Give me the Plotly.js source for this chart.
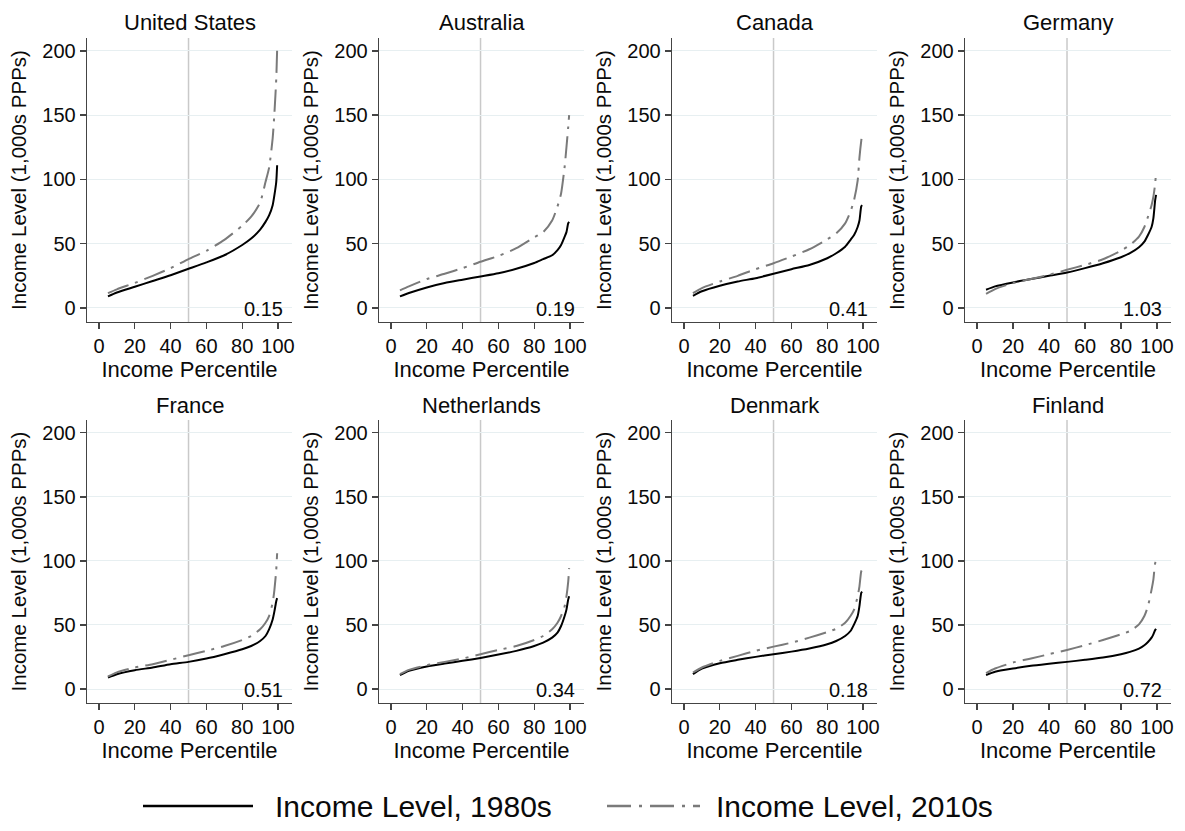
<!DOCTYPE html>
<html>
<head>
<meta charset="utf-8">
<script src="https://cdn.plot.ly/plotly-3.0.1.min.js"></script>
<style>html,body{margin:0;padding:0;background:#fff}#chart{width:1185px;height:831px}</style>
</head>
<body>
<div id="chart"></div>
<script>
// ---- data ----
const percentiles = [5,10,20,30,40,50,60,70,80,85,90,93,95,97,98,99,99.5];
const countries = ["United States","Australia","Canada","Germany","France","Netherlands","Denmark","Finland"];
const ratios = ["0.15","0.19","0.41","1.03","0.51","0.34","0.18","0.72"];
const seriesNames = ["Income Level, 1980s","Income Level, 2010s"];

const us1980 = [9,12,16.5,21,25.5,30.5,35.5,41,49,54,61,67,72,80,88,98,111];
const us2010 = [11.5,14.5,19.5,25,31,38,44.5,53,64,71,82,98,109,132,152,178,201];
const au1980 = [9,11.6,16,19.4,22,24.5,27,30.5,35,38,41,45,49,55.5,59,66,67];
const au2010 = [13.7,16.8,22.5,26.6,31,36,40.5,46.5,55,59,68,79,89,110,125,141,150];
const ca1980 = [9.5,13,17.3,20.6,23.2,26.6,30.2,33.5,38.7,42.6,47.7,53,56.8,63,68,79,80];
const ca2010 = [11.6,15.5,20.6,25,30.2,34.8,40,45.7,53.4,58,65.8,75,84,99,117,130,135];
const de1980 = [14.2,16.8,19.9,22.5,25,27.6,31,34.8,39.5,42.6,47.2,51.6,56.8,63,69.7,83.9,88];
const de2010 = [11,14.7,19.4,22.5,25.8,29.7,33.5,37.9,44.6,49,55.5,63,71,80,86.5,96.8,105.8];
const fr1980 = [9,11.6,14.7,16.8,19.4,21.2,23.8,27.2,31,33.6,37.5,41.4,46.6,54.3,60.8,68.6,71];
const fr2010 = [9.8,13,16.8,19.4,22.8,26.4,29.8,33.6,38.3,41.4,46.6,51.7,57,67.3,77.6,93,106];
const nl1980 = [10.9,14.2,17.6,19.9,22,24.3,26.9,29.8,33.6,36.2,40.1,44,49.2,57,62,70,72.4];
const nl2010 = [11.6,15,18.6,21.2,23.8,27.2,30.5,33.6,38.3,41.4,46.6,51.7,57,64.7,72.4,84,94.4];
const dk1980 = [11.6,16,20.2,22.8,25.1,27.2,29.2,31.6,34.9,37.5,41.4,45.3,50.5,57,64.7,75,76];
const dk2010 = [12.9,16.8,22,25.9,29.8,33.1,36.2,40.1,44.5,47,51.7,57,62,72.4,80.2,91.8,93];
const fi1980 = [10.9,13.5,16,18.1,19.7,21.2,22.8,24.6,27.2,29,31.6,34.2,36.7,40.1,42.7,46,47];
const fi2010 = [12.4,16,20.7,23.8,27.2,30.5,34.2,38.3,42.7,45.3,50.5,57,64.7,77.6,85.4,98.3,99.6];

const xTicks = [0,20,40,60,80,100];
const yTicks = [0,50,100,150,200];

const series1980 = [us1980,au1980,ca1980,de1980,fr1980,nl1980,dk1980,fi1980];
const series2010 = [us2010,au2010,ca2010,de2010,fr2010,nl2010,dk2010,fi2010];

// ---- layout geometry ----
const W = 1185, H = 831;
const colPx = [[87,292],[379,584],[672,877],[965,1171]];
const rowPx = [[38,322],[420,703]];
const titleY = [22,405];
const FONT = 'Arial, "Liberation Sans", sans-serif';
const AXC = '#444';
const TXT = '#0a0a0a';

const traces = [];
const layout = {
  width: W, height: H,
  margin: {l:0, r:0, t:0, b:0},
  paper_bgcolor: '#fff', plot_bgcolor: '#fff',
  showlegend: false,
  font: {family: FONT, color: TXT, size: 20},
  shapes: [], annotations: []
};

countries.forEach((name, i) => {
  const col = i % 4, row = Math.floor(i / 4);
  const n = i === 0 ? '' : String(i + 1);
  const xa = 'x' + n, ya = 'y' + n;
  traces.push({
    x: percentiles, y: series1980[i], xaxis: xa, yaxis: ya, type: 'scatter', mode: 'lines',
    name: seriesNames[0], line: {color: '#000', width: 2, shape: 'spline', smoothing: 0.6}, hoverinfo: 'skip'
  });
  traces.push({
    x: percentiles, y: series2010[i], xaxis: xa, yaxis: ya, type: 'scatter', mode: 'lines',
    name: seriesNames[1], line: {color: '#7a7a7a', width: 2, dash: '22px,7px,3px,7px', shape: 'spline', smoothing: 0.6}, hoverinfo: 'skip'
  });
  layout['xaxis' + n] = {
    domain: [colPx[col][0] / W, colPx[col][1] / W],
    anchor: ya, range: [-6.7, 107.8], tickvals: xTicks,
    ticks: 'outside', ticklen: 6, tickwidth: 1.3, tickcolor: AXC,
    showline: true, linecolor: AXC, linewidth: 1.3,
    showgrid: false, zeroline: false, fixedrange: true,
    tickfont: {size: 20, color: TXT},
    title: {text: 'Income Percentile', font: {size: 22, color: TXT}, standoff: 1}
  };
  layout['yaxis' + n] = {
    domain: [1 - rowPx[row][1] / H, 1 - rowPx[row][0] / H],
    anchor: xa, range: [-10.9, 210], tickvals: yTicks,
    ticks: 'outside', ticklen: 6, tickwidth: 1.3, tickcolor: AXC,
    showline: true, linecolor: AXC, linewidth: 1.3,
    showgrid: true, gridcolor: '#e7eff1', gridwidth: 1,
    zeroline: false, fixedrange: true,
    tickfont: {size: 20, color: TXT},
    title: {text: 'Income Level (1,000s PPPs)', font: {size: 20.5, color: TXT}, standoff: 10}
  };
  layout.shapes.push({
    type: 'line', xref: xa, yref: ya + ' domain', x0: 50, x1: 50, y0: 0, y1: 1,
    line: {color: '#c9c9c9', width: 1.5}, layer: 'below'
  });
  layout.annotations.push({
    text: name, xref: 'paper', yref: 'paper',
    x: (colPx[col][0] + colPx[col][1]) / 2 / W, y: 1 - titleY[row] / H,
    xanchor: 'center', yanchor: 'middle', showarrow: false,
    font: {size: 22, color: TXT}
  });
  layout.annotations.push({
    text: ratios[i], xref: xa, yref: ya, x: 104, y: -1,
    xanchor: 'right', yanchor: 'middle', showarrow: false,
    font: {size: 20, color: TXT}
  });
});

// ---- legend (drawn manually to match long line samples) ----
const legY = 1 - 806 / H;
layout.shapes.push({type: 'line', xref: 'paper', yref: 'paper', x0: 143 / W, x1: 253 / W, y0: legY, y1: legY,
  line: {color: '#000', width: 2.5}});
layout.shapes.push({type: 'line', xref: 'paper', yref: 'paper', x0: 607 / W, x1: 700 / W, y0: legY, y1: legY,
  line: {color: '#7a7a7a', width: 2.5, dash: '24px,8px,3px,8px'}});
layout.annotations.push({text: seriesNames[0], xref: 'paper', yref: 'paper', x: 273 / W, y: legY,
  xanchor: 'left', yanchor: 'middle', showarrow: false, font: {size: 30, color: TXT}});
layout.annotations.push({text: seriesNames[1], xref: 'paper', yref: 'paper', x: 714 / W, y: legY,
  xanchor: 'left', yanchor: 'middle', showarrow: false, font: {size: 30, color: TXT}});

Plotly.newPlot('chart', traces, layout, {displayModeBar: false, staticPlot: true});
</script>
</body>
</html>
